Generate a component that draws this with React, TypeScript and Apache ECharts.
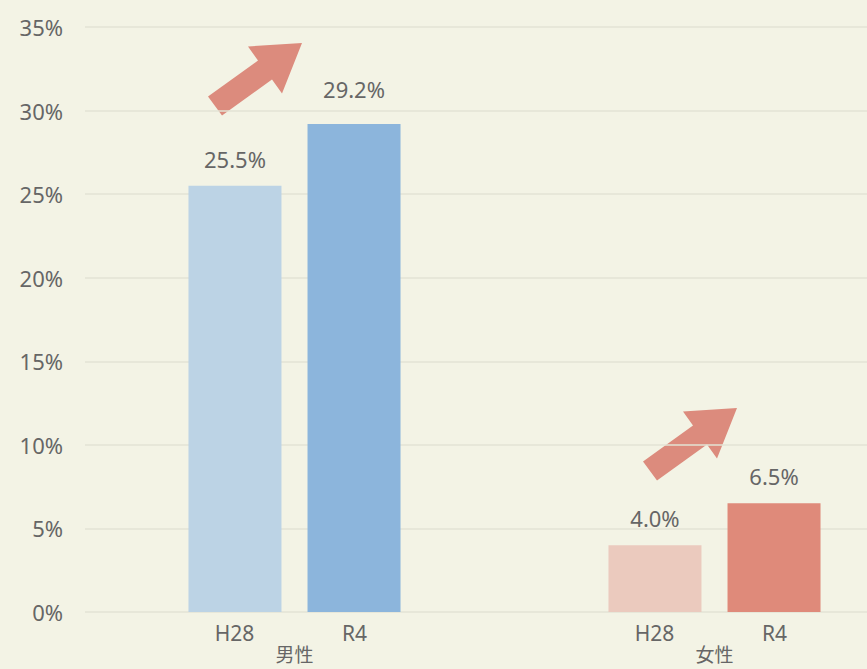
import React, { useEffect, useRef } from "react";
import * as echarts from "echarts";

const groups = ["男性", "女性"];
const periods = ["H28", "R4"];
const h28Values = [25.5, 4.0];
const r4Values = [29.2, 6.5];
const yTicks = { min: 0, max: 35, interval: 5 };

const h28Colors = ["#bcd3e5", "#ebcabe"];
const r4Colors = ["#8cb5dc", "#df8a7a"];
const arrowColor = "#dc8b7d";
const textColor = "#666666";
const bg = "#f3f3e5";
const font = "'Noto Sans', 'Noto Sans CJK JP', sans-serif";

const arrowShape = [
  [208, 96.5],
  [258, 60.5],
  [248, 46.5],
  [302, 43],
  [282, 93.5],
  [272, 79.5],
  [222, 115.5],
];

export default function App() {
  const ref = useRef<HTMLDivElement>(null);
  useEffect(() => {
    document.body.style.margin = "0";
    document.body.style.background = bg;
    const chart = echarts.init(ref.current!, undefined, { renderer: "svg" });
    const valueLabel = (distance: number) => ({
      show: true,
      position: "top",
      distance,
      fontSize: 22,
      fontFamily: font,
      color: textColor,
      formatter: (p: any) => `${Number(p.value).toFixed(1)}%`,
    });
    const makeData = (vals: number[], colors: string[], bigIdx: number[] = []) =>
      vals.map((v, i) => ({
        value: v,
        itemStyle: { color: colors[i] },
        label: valueLabel(bigIdx.includes(i) ? 24 : 16),
      }));
    chart.setOption({
      animation: false,
      backgroundColor: bg,
      grid: [
        { left: 85, right: 0, top: 27, bottom: 57 },
        { left: 294.5, right: 152.5, top: 27, bottom: 57 },
      ],
      xAxis: [
        {
          type: "category",
          gridIndex: 0,
          data: groups,
          show: false,
        },
        {
          type: "category",
          gridIndex: 1,
          data: groups,
          boundaryGap: false,
          axisLine: { show: false },
          axisTick: { show: false },
          splitLine: { show: false },
          axisLabel: {
            margin: 8,
            formatter: (v: string) =>
              `{s|${periods[0]}}{s|${periods[1]}}\n{g|${v}}`,
            rich: {
              s: {
                width: 120,
                align: "center",
                fontSize: 21,
                lineHeight: 25,
                fontFamily: font,
                color: textColor,
              },
              g: {
                align: "center",
                fontSize: 19,
                lineHeight: 20,
                fontFamily: font,
                color: textColor,
              },
            },
          },
        },
      ],
      yAxis: [
        {
          type: "value",
          gridIndex: 0,
          min: yTicks.min,
          max: yTicks.max,
          interval: yTicks.interval,
          axisLine: { show: false },
          axisTick: { show: false },
          axisLabel: {
            margin: 22,
            fontSize: 22,
            fontFamily: font,
            color: textColor,
            formatter: "{value}%",
          },
          splitLine: { show: true, lineStyle: { color: "#e3e3d4", width: 1.5 } },
        },
        {
          type: "value",
          gridIndex: 1,
          min: yTicks.min,
          max: yTicks.max,
          interval: yTicks.interval,
          show: false,
          splitLine: { show: false },
        },
      ],
      series: [
        {
          name: periods[0],
          type: "bar",
          xAxisIndex: 1,
          yAxisIndex: 1,
          barWidth: 93,
          barGap: "28%",
          data: makeData(h28Values, h28Colors),
        },
        {
          name: periods[1],
          type: "bar",
          xAxisIndex: 1,
          yAxisIndex: 1,
          barWidth: 93,
          barGap: "28%",
          data: makeData(r4Values, r4Colors, [0]),
        },
      ],
      graphic: [
        {
          type: "polygon",
          x: 0,
          y: 0,
          shape: { points: arrowShape },
          style: { fill: arrowColor },
        },
        {
          type: "polygon",
          x: 435,
          y: 365,
          shape: { points: arrowShape },
          style: { fill: arrowColor },
        },
      ],
    });
    return () => chart.dispose();
  }, []);
  return <div ref={ref} style={{ width: 867, height: 669 }} />;
}
